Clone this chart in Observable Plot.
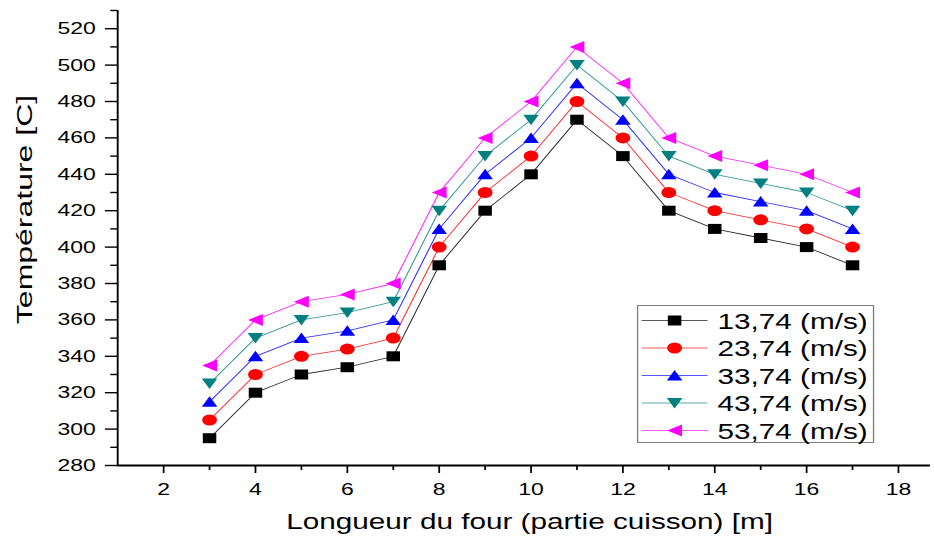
<!DOCTYPE html>
<html>
<head>
<meta charset="utf-8">
<script src="https://cdn.jsdelivr.net/npm/d3@7"></script>
<script src="https://cdn.jsdelivr.net/npm/@observablehq/plot@0.6"></script>
<style>
  html, body { margin: 0; padding: 0; background: #ffffff; }
  #chart svg { display: block; }
</style>
</head>
<body>
<div id="chart"></div>
<script>
// Kiln length positions (m) along the firing zone
const positions = [3, 4, 5, 6, 7, 8, 9, 10, 11, 12, 13, 14, 15, 16, 17];

// Air velocity series
const speeds = ["13,74 (m/s)", "23,74 (m/s)", "33,74 (m/s)", "43,74 (m/s)", "53,74 (m/s)"];

// Temperature (°C) per position, one array per velocity
const temp1374 = [295, 320, 330, 334, 340, 390, 420, 440, 470, 450, 420, 410, 405, 400, 390];
const temp2374 = [305, 330, 340, 344, 350, 400, 430, 450, 480, 460, 430, 420, 415, 410, 400];
const temp3374 = [315, 340, 350, 354, 360, 410, 440, 460, 490, 470, 440, 430, 425, 420, 410];
const temp4374 = [325, 350, 360, 364, 370, 420, 450, 470, 500, 480, 450, 440, 435, 430, 420];
const temp5374 = [335, 360, 370, 374, 380, 430, 460, 480, 510, 490, 460, 450, 445, 440, 430];

// Axis ticks
const xMajorTicks = [2, 4, 6, 8, 10, 12, 14, 16, 18];
const xMinorTicks = [3, 5, 7, 9, 11, 13, 15, 17];
const yMajorTicks = [280, 300, 320, 340, 360, 380, 400, 420, 440, 460, 480, 500, 520];
const yMinorTicks = [290, 310, 330, 350, 370, 390, 410, 430, 450, 470, 490, 510, 530];
const xDomain = [1, 18.7];
const yDomain = [280, 530];

const xLabel = "Longueur du four (partie cuisson) [m]";
const yLabel = "Température [C]";

const seriesColors = ["#000000", "#ff0000", "#0000ff", "#008080", "#ff00ff"];

// Marker shapes (square, circle, up/down/left triangles)
const symSquare = {draw(c, size) { const r = Math.sqrt(size / Math.PI); c.rect(-r, -r, 2 * r, 2 * r); }};
const symCircle = {draw(c, size) { const r = Math.sqrt(size / Math.PI) * 1.1; c.moveTo(r, 0); c.arc(0, 0, r, 0, 2 * Math.PI); c.closePath(); }};
const symUp = {draw(c, size) { const r = Math.sqrt(size / Math.PI); c.moveTo(0, -1.1 * r); c.lineTo(1.15 * r, 1.0 * r); c.lineTo(-1.15 * r, 1.0 * r); c.closePath(); }};
const symDown = {draw(c, size) { const r = Math.sqrt(size / Math.PI); c.moveTo(0, 1.1 * r); c.lineTo(1.15 * r, -1.0 * r); c.lineTo(-1.15 * r, -1.0 * r); c.closePath(); }};
const symLeft = {draw(c, size) { const r = Math.sqrt(size / Math.PI); c.moveTo(-1.1 * r, 0); c.lineTo(1.1 * r, -1.2 * r); c.lineTo(1.1 * r, 1.2 * r); c.closePath(); }};
const seriesSymbols = [symSquare, symCircle, symUp, symDown, symLeft];

// Legend pieces
const legendLine = {draw(c) { c.moveTo(-24.4, 0); c.lineTo(24.4, 0); }};
const legendBox = {draw(c) { c.rect(-87.4, -68.5, 174.8, 137); }};

const seriesValues = [temp1374, temp2374, temp3374, temp4374, temp5374];
const rows = speeds.flatMap((speed, i) =>
  positions.map((x, j) => ({speed, x, temp: seriesValues[i][j]}))
);

// Drawing width before the horizontal widening to the page width
const W = 692, H = 538;

const legendMarks = [
  Plot.dot([0], {frameAnchor: "bottom-right", dx: -129.7, dy: -91.5, symbol: legendBox, r: 5, fill: "white", stroke: "#808080", strokeWidth: 1})
];
speeds.forEach((speed, i) => {
  const dy = -145 + i * 27.5;
  legendMarks.push(
    Plot.dot([speed], {frameAnchor: "bottom-right", dx: -189.7, dy, symbol: legendLine, r: 5, fill: "none", stroke: seriesColors[i], strokeWidth: 0.7, strokeOpacity: 0.8}),
    Plot.dot([speed], {frameAnchor: "bottom-right", dx: -189.7, dy, symbol: seriesSymbols[i], r: 5, fill: seriesColors[i], stroke: "none"}),
    Plot.text([speed], {frameAnchor: "bottom-right", dx: -157.9, dy: dy + 1, text: d => d, textAnchor: "start", lineAnchor: "middle", fontSize: 22, fill: "black"})
  );
});

const svg = Plot.plot({
  width: W,
  height: H,
  marginLeft: 86.7,
  marginRight: 3,
  marginTop: 10,
  marginBottom: 73,
  x: {domain: xDomain},
  y: {domain: yDomain},
  color: {domain: speeds, range: seriesColors},
  symbol: {domain: speeds, range: seriesSymbols},
  style: {fontFamily: "'Liberation Sans', Arial, sans-serif", fontSize: "17px", color: "black", background: "white"},
  marks: [
    Plot.axisX({ticks: xMajorTicks, tickSize: 8, tickPadding: 9, strokeWidth: 1.3, label: null, fontSize: 17}),
    Plot.axisX({ticks: xMinorTicks, tickSize: 5, strokeWidth: 1.3, text: null, label: null}),
    Plot.axisY({ticks: yMajorTicks, tickSize: 9, tickPadding: 7.3, strokeWidth: 1.4, label: null, fontSize: 17}),
    Plot.axisY({ticks: yMinorTicks, tickSize: 5, strokeWidth: 1.4, text: null, label: null}),
    Plot.ruleY([yDomain[0]], {stroke: "black", strokeWidth: 1.8}),
    Plot.ruleX([xDomain[0]], {stroke: "black", strokeWidth: 1.4}),
    Plot.line(rows, {x: "x", y: "temp", z: "speed", stroke: "speed", strokeWidth: 0.8, strokeOpacity: 0.85}),
    Plot.dot(rows, {x: "x", y: "temp", symbol: "speed", fill: "speed", stroke: "none", r: 5}),
    ...legendMarks,
    Plot.text([xLabel], {frameAnchor: "bottom", dx: 4, dy: 56, text: d => d, textAnchor: "middle", lineAnchor: "middle", fontSize: 22, fill: "black"}),
    Plot.text([yLabel], {frameAnchor: "left", dx: -68.7, dy: -28.5, rotate: -90, text: d => d, textAnchor: "middle", lineAnchor: "middle", fontSize: 16, fill: "black"})
  ]
});

// The y title is drawn elongated along its reading direction
const yTitle = Array.from(svg.querySelectorAll("text")).find(t => t.textContent === yLabel);
if (yTitle && (yTitle.getAttribute("transform") || "").includes("rotate")) {
  yTitle.setAttribute("transform", yTitle.getAttribute("transform") + " scale(2,1)");
}

// Widen the drawing horizontally to fill the page
svg.setAttribute("preserveAspectRatio", "none");
svg.setAttribute("width", 934);
svg.setAttribute("height", 538);
svg.style.width = "934px";
svg.style.height = "538px";
svg.style.maxWidth = "none";

document.getElementById("chart").appendChild(svg);
</script>
</body>
</html>
